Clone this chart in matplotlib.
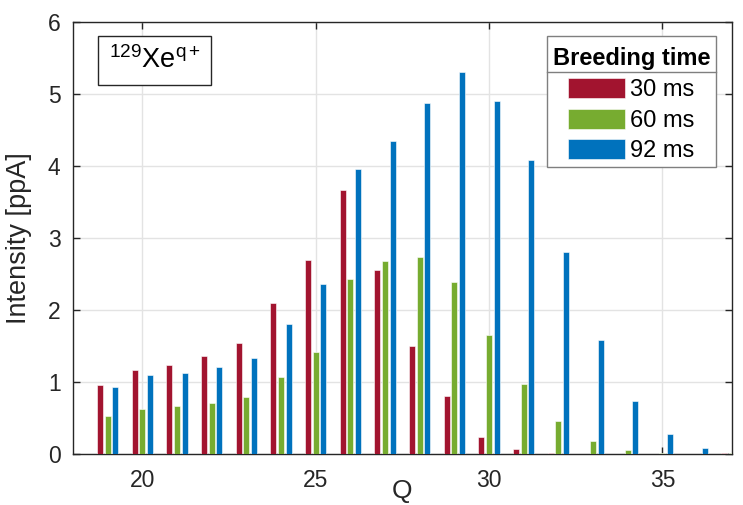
import matplotlib
matplotlib.use('Agg')
import matplotlib.pyplot as plt
import numpy as np
from matplotlib.patches import Rectangle

plt.rcParams['font.family'] = ['Liberation Sans', 'DejaVu Sans']
plt.rcParams['mathtext.fontset'] = 'custom'
plt.rcParams['mathtext.rm'] = 'Liberation Sans'
plt.rcParams['mathtext.it'] = 'Liberation Sans:italic'

# charge states and beam intensity for each breeding time
charge = np.arange(19, 38)
i_30ms = [0.96, 1.16, 1.23, 1.36, 1.54, 2.10, 2.70, 3.67, 2.56, 1.50,
          0.80, 0.24, 0.07, 0.012, 0.006, 0.0, 0.0, 0.0, 0.02]
i_60ms = [0.53, 0.63, 0.66, 0.71, 0.79, 1.07, 1.42, 2.43, 2.68, 2.73,
          2.39, 1.65, 0.97, 0.46, 0.18, 0.06, 0.012, 0.006, 0.012]
i_92ms = [0.93, 1.10, 1.13, 1.21, 1.33, 1.81, 2.36, 3.96, 4.35, 4.87,
          5.31, 4.90, 4.08, 2.80, 1.59, 0.73, 0.28, 0.09, 0.0]
labels = ['30 ms', '60 ms', '92 ms']
colors = ['#A2142F', '#77AC30', '#0072BD']

fig = plt.figure(figsize=(7.43, 5.05), dpi=100)
ax = fig.add_axes([0.0983, 0.101, 0.8865, 0.8554])

offset = 0.222
width = 0.17
for k, (vals, lab, col) in enumerate(zip([i_30ms, i_60ms, i_92ms], labels, colors)):
    ax.bar(charge + (k - 1) * offset, vals, width=width, color=col,
           edgecolor='white', linewidth=0.4, label=lab, zorder=3)

ax.set_xlim(18, 37)
ax.set_ylim(0, 6)
ax.set_xticks([20, 25, 30, 35])
ax.set_yticks(range(0, 7))
ax.grid(True, color='#E3E3E3', linewidth=1.0, zorder=0)
ax.set_axisbelow(True)
for s in ax.spines.values():
    s.set_color('#262626')
    s.set_linewidth(1.0)
ax.tick_params(direction='in', length=5, width=1.0, colors='#262626',
               labelsize=16.5, top=True, right=True, labeltop=False, labelright=False)
ax.tick_params(axis='x', pad=11)
ax.tick_params(axis='y', pad=9)
ax.set_xlabel('Q', fontsize=19, color='#262626', va='top')
ax.xaxis.set_label_coords(0.5, -0.057)
ax.set_ylabel('Intensity [ppA]', fontsize=19.5, color='#262626')
ax.yaxis.set_label_coords(-0.062, 0.5)

ax.text(0.054, 0.911, r'$\mathregular{^{129}Xe^{q+}}$', transform=ax.transAxes,
        fontsize=19.5, va='center', ha='left', zorder=5,
        bbox=dict(boxstyle='square,pad=0.4', facecolor='white',
                  edgecolor='#262626', linewidth=1.0))

# legend box: white panel with a line between title and entries
ax.add_patch(Rectangle((0.7191, 0.6637), 0.2571, 0.3039, transform=ax.transAxes,
                       facecolor='white', edgecolor='#7F7F7F', linewidth=1.0,
                       zorder=6, clip_on=False))
ax.plot([0.7191, 0.9762], [0.8836, 0.8836], transform=ax.transAxes,
        color='#7F7F7F', linewidth=1.0, zorder=7, clip_on=False)

leg = ax.legend(title='Breeding time', loc='upper center',
                bbox_to_anchor=(0.8476, 0.955), fontsize=17,
                title_fontproperties={'weight': 'bold', 'size': 17},
                alignment='center', frameon=False,
                handlelength=2.42, handleheight=0.93, labelspacing=0.32,
                handletextpad=0.2, borderpad=0.25, borderaxespad=0)
leg.set_zorder(8)

fig.savefig('out.png', dpi=100)
